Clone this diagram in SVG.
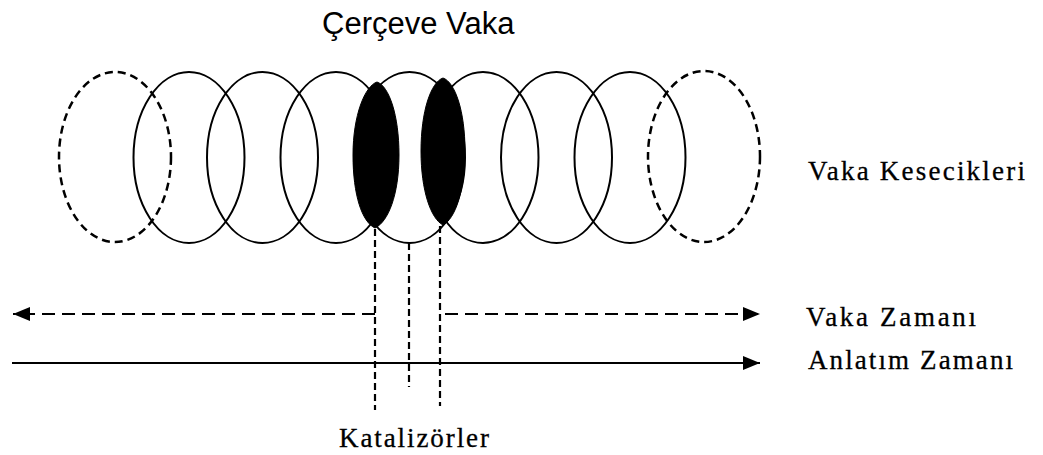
<svg xmlns="http://www.w3.org/2000/svg" width="1043" height="455" viewBox="0 0 1043 455">
<style>
.ring{fill:none;stroke:#000;stroke-width:2}
.ghost{fill:none;stroke:#000;stroke-width:2.5;stroke-dasharray:8 5}
.blk{fill:#000;stroke:#000;stroke-width:1}
.vdash{fill:none;stroke:#000;stroke-width:2.2;stroke-dasharray:7 4}
.hdash{fill:none;stroke:#000;stroke-width:2.2;stroke-dasharray:13 7}
.solid{fill:none;stroke:#000;stroke-width:2.2}
.serif{font-family:"Liberation Serif","Times New Roman",serif;fill:#000;stroke:#000;stroke-width:0.3}
.sans{font-family:"Liberation Sans",Arial,sans-serif;fill:#000}
</style>
<defs>
<marker id="ah" viewBox="0 0 17 14" refX="17" refY="7" markerWidth="17" markerHeight="14" markerUnits="userSpaceOnUse" orient="auto">
<path d="M0,0 L17,7 L0,14 Z" fill="#000"/>
</marker>
</defs>
<rect width="1043" height="455" fill="#fff"/>
<g id="title"><text class="sans" x="322" y="34" font-size="31">Çerçeve Vaka</text></g>
<g id="vesicles">
<ellipse id="ghost-left" class="ghost" cx="115" cy="157" rx="56" ry="85"/>
<ellipse id="ring1" class="ring" cx="189" cy="157.5" rx="55.5" ry="85.5"/>
<ellipse id="ring2" class="ring" cx="262.5" cy="157.5" rx="55.5" ry="85.5"/>
<ellipse id="ring3" class="ring" cx="336" cy="157.5" rx="55.5" ry="85.5"/>
<ellipse id="ring4" class="ring" cx="409.5" cy="157.5" rx="55.5" ry="85.5"/>
<ellipse id="ring5" class="ring" cx="483" cy="157.5" rx="55.5" ry="85.5"/>
<ellipse id="ring6" class="ring" cx="556.5" cy="157.5" rx="55.5" ry="85.5"/>
<ellipse id="ring7" class="ring" cx="630" cy="157.5" rx="55.5" ry="85.5"/>
<ellipse id="ghost-right" class="ghost" cx="704" cy="156.5" rx="56" ry="85.5"/>
<path id="catalyst1" class="blk" d="M377,82 C389,86 399,115 399,155 C399,195 388,222 375,228 C362,222 353,195 353,155 C353,115 365,86 377,82 Z"/>
<path id="catalyst2" class="blk" d="M443,78 C455,82 465,111 465,151 C465,191 455,219 443,225 C431,219 421,191 421,151 C421,111 431,82 443,78 Z"/>
</g>
<g id="connectors">
<line class="vdash" x1="375" y1="229" x2="375" y2="410"/>
<line class="vdash" x1="409" y1="243" x2="409" y2="387"/>
<line class="vdash" x1="440" y1="226" x2="440" y2="406"/>
<line class="hdash" x1="375" y1="314" x2="13" y2="314" marker-end="url(#ah)"/>
<line class="hdash" x1="445" y1="314" x2="760" y2="314" marker-end="url(#ah)"/>
<line class="solid" x1="12" y1="363" x2="760" y2="363" marker-end="url(#ah)"/>
</g>
<g id="labels">
<text class="serif" x="808" y="180" font-size="27" textLength="217" lengthAdjust="spacing">Vaka Kesecikleri</text>
<text class="serif" x="806" y="326" font-size="27" textLength="170" lengthAdjust="spacing">Vaka Zamanı</text>
<text class="serif" x="808" y="369" font-size="27" textLength="205" lengthAdjust="spacing">Anlatım Zamanı</text>
<text class="serif" x="339" y="447" font-size="27" textLength="150" lengthAdjust="spacing">Katalizörler</text>
</g>
</svg>
